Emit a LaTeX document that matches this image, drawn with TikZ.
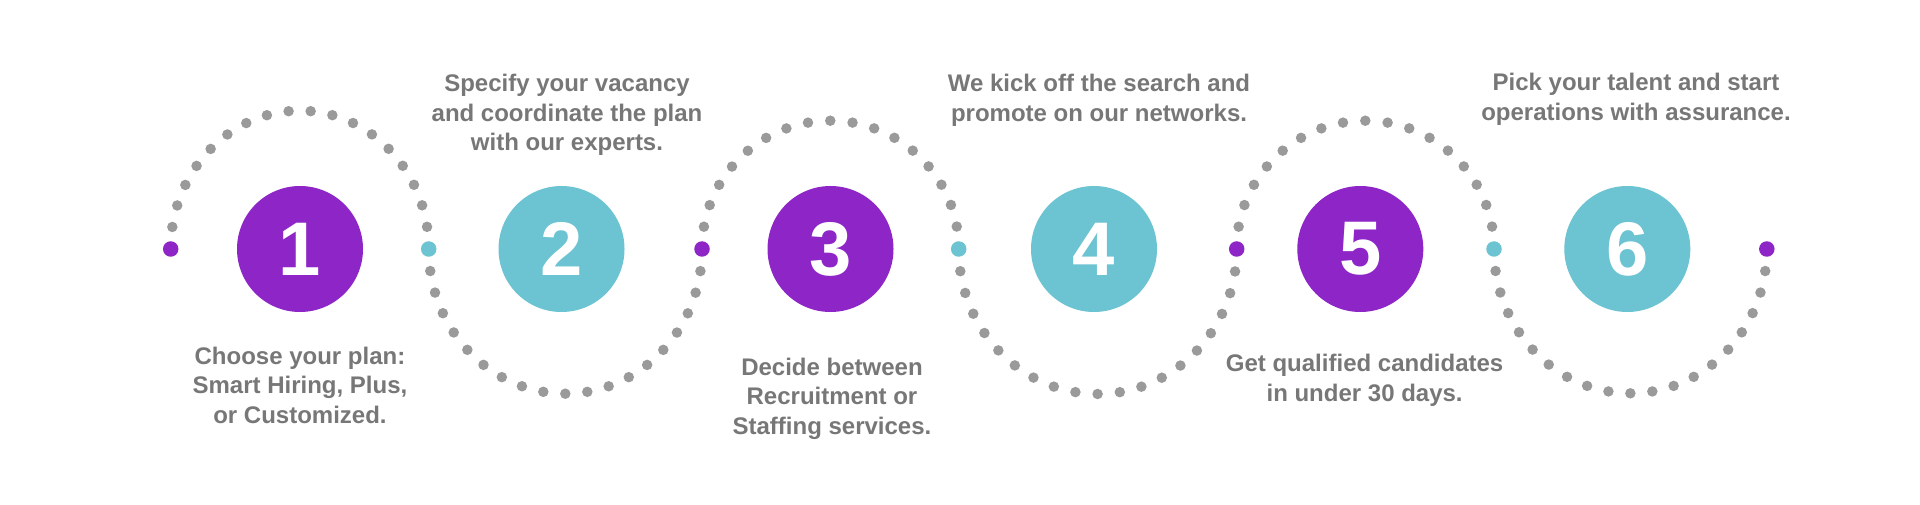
\documentclass[tikz,border=0pt]{standalone}
\usepackage{fontspec}
\setmainfont{Liberation Sans}
\definecolor{purp}{HTML}{8E25C7}
\definecolor{teal2}{HTML}{6CC3D2}
\definecolor{dotgray}{HTML}{9A9A9A}
\definecolor{txtgray}{HTML}{777777}
\tikzset{
  numcirc/.style={circle, minimum size=126pt, inner sep=0pt, text=white,
    font=\fontsize{76}{76}\selectfont\bfseries},
  cdot/.style={circle, minimum size=15.5pt, inner sep=0pt},
  dotpath/.style={draw=dotgray, line width=10.5pt, line cap=round},
  lbl/.style={align=center, anchor=base, inner sep=0pt, text=txtgray,
    font=\fontsize{24}{29.5}\selectfont\bfseries}
}
\begin{document}
\begin{tikzpicture}[x=1pt,y=1pt]
\useasboundingbox (0,0) rectangle (1920,-505);
\fill[white] (0,0) rectangle (1920,-505);
% junction points
\coordinate (p0) at (170.7,-249);
\coordinate (p1) at (428.7,-249);
\coordinate (p2) at (702,-249);
\coordinate (p3) at (958.7,-249);
\coordinate (p4) at (1236.7,-249);
\coordinate (p5) at (1494,-249);
\coordinate (p6) at (1766.8,-249);
% dotted arcs
\draw[dotpath, dash pattern=on 0pt off 22.1pt] (p0) arc[start angle=180, end angle=0, x radius=129pt, y radius=138.3pt];
\draw[dotpath, dash pattern=on 0pt off 22.1pt] (p1) arc[start angle=180, end angle=360, x radius=136.65pt, y radius=144.7pt];
\draw[dotpath, dash pattern=on 0pt off 22.39pt] (p2) arc[start angle=180, end angle=0, x radius=128.35pt, y radius=128.3pt];
\draw[dotpath, dash pattern=on 0pt off 22.3pt] (p3) arc[start angle=180, end angle=360, x radius=139pt, y radius=145pt];
\draw[dotpath, dash pattern=on 0pt off 22.42pt] (p4) arc[start angle=180, end angle=0, x radius=128.65pt, y radius=128.3pt];
\draw[dotpath, dash pattern=on 0pt off 22.05pt] (p5) arc[start angle=180, end angle=360, x radius=136.4pt, y radius=144.3pt];
% colored junction dots
\node[cdot, fill=purp] (d0) at (p0) {};
\node[cdot, fill=teal2] (d1) at (p1) {};
\node[cdot, fill=purp] (d2) at (p2) {};
\node[cdot, fill=teal2] (d3) at (p3) {};
\node[cdot, fill=purp] (d4) at (p4) {};
\node[cdot, fill=teal2] (d5) at (p5) {};
\node[cdot, fill=purp] (d6) at (p6) {};
% numbered circles
\node[numcirc, fill=purp] (c1) at (300,-249) {1};
\node[numcirc, fill=teal2] (c2) at (561.5,-249) {2};
\node[numcirc, fill=purp] (c3) at (830.5,-249) {3};
\node[numcirc, fill=teal2] (c4) at (1094,-249) {4};
\node[numcirc, fill=purp] (c5) at (1360.3,-249) {5};
\node[numcirc, fill=teal2] (c6) at (1627.3,-249) {6};
% labels (anchor = baseline of last line)
\node[lbl] (t1) at (300,-423) {Choose your plan:\\Smart Hiring, Plus,\\or Customized.};
\node[lbl] (t2) at (567,-150.7) {Specify your vacancy\\and coordinate the plan\\with our experts.};
\node[lbl] (t3) at (832,-434) {Decide between\\Recruitment or\\Staffing services.};
\node[lbl] (t4) at (1099,-121.2) {We kick off the search and\\promote on our networks.};
\node[lbl] (t5) at (1364.6,-401.2) {Get qualified candidates\\in under 30 days.};
\node[lbl] (t6) at (1636,-120.2) {Pick your talent and start\\operations with assurance.};
\end{tikzpicture}
\end{document}
